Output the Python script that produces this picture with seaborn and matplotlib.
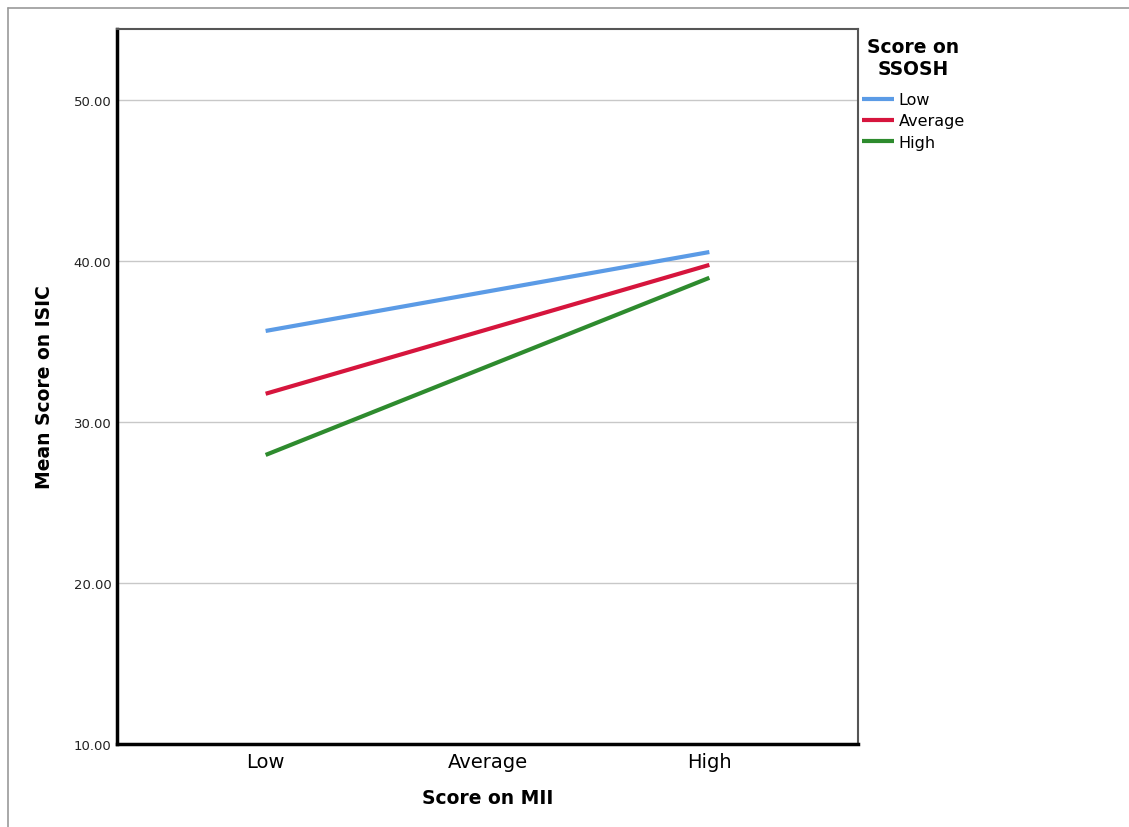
import pandas as pd
import numpy as np
import matplotlib
matplotlib.use('Agg')
import matplotlib.pyplot as plt
from matplotlib.lines import Line2D
import seaborn as sns

# Data
mii_levels = ['Low', 'Average', 'High']
ssosh_levels = ['Low', 'Average', 'High']
mii_plotted = ['Low', 'High']
isic_low_ssosh = [35.65, 40.55]
isic_avg_ssosh = [31.75, 39.75]
isic_high_ssosh = [27.95, 38.95]

colors = {'Low': '#5B9BE6', 'Average': '#D6153D', 'High': '#2E8B2E'}

rows = []
for grp, vals in zip(ssosh_levels, [isic_low_ssosh, isic_avg_ssosh, isic_high_ssosh]):
    for lvl, v in zip(mii_plotted, vals):
        rows.append({'mii': lvl, 'pos': mii_levels.index(lvl), 'ssosh': grp, 'isic': v})
df = pd.DataFrame(rows)

sns.set_style('white')
plt.rcParams['font.family'] = ['DejaVu Sans']
plt.rcParams['text.color'] = 'black'
plt.rcParams['axes.labelcolor'] = 'black'
plt.rcParams['xtick.color'] = 'black'
plt.rcParams['ytick.color'] = 'black'

fig = plt.figure(figsize=(11.29, 8.28), dpi=100)
ax = fig.add_axes([117 / 1129, 83 / 828, (858 - 117) / 1129, (745 - 30) / 828])

sns.lineplot(data=df, x='pos', y='isic', hue='ssosh', hue_order=ssosh_levels,
             palette=colors, linewidth=3, ax=ax, solid_capstyle='butt')

ax.set_xlim(-0.67, 2.67)
ax.set_ylim(10, 54.4)
ax.set_xticks(range(len(mii_levels)))
ax.set_xticklabels(mii_levels, fontsize=14)
ax.set_yticks([10, 20, 30, 40, 50])
ax.set_yticklabels([f'{t:.2f}' for t in [10, 20, 30, 40, 50]], fontsize=9.5, color='#222222')
ax.tick_params(axis='both', length=0)
ax.tick_params(axis='y', pad=4)
ax.tick_params(axis='x', pad=6)
ax.yaxis.grid(True, color='#c8c8c8', linewidth=1)
ax.set_axisbelow(True)

ax.set_xlabel('Score on MII', fontsize=13.5, fontweight='bold', labelpad=12)
ax.set_ylabel('Mean Score on ISIC', fontsize=13.5, fontweight='bold', labelpad=14)

for side in ['left', 'bottom']:
    ax.spines[side].set_color('black')
    ax.spines[side].set_linewidth(2.5)
for side in ['top', 'right']:
    ax.spines[side].set_color('#555555')
    ax.spines[side].set_linewidth(1.5)

handles, labels = ax.get_legend_handles_labels()
leg = ax.legend(handles, labels, title='Score on\nSSOSH', frameon=True,
                loc='upper left', bbox_to_anchor=(862 / 1129, 1 - 38 / 828),
                bbox_transform=fig.transFigure, fontsize=11.5,
                title_fontproperties={'weight': 'bold', 'size': 13.5},
                handlelength=2.0, handletextpad=0.3, labelspacing=0.38,
                borderpad=0.0, borderaxespad=0, alignment='center')
leg.get_title().set_multialignment('center')
leg._legend_box.sep = 0.38 * 11.5 + 6
leg.get_frame().set_edgecolor('white')
leg.get_frame().set_facecolor('white')
for line in leg.get_lines():
    line.set_linewidth(3)

# outer frame of the screenshot (top and left edges)
fig.add_artist(Line2D([8 / 1129, 1], [1 - 9 / 828, 1 - 9 / 828], color='#999999', linewidth=1.2))
fig.add_artist(Line2D([8 / 1129, 8 / 1129], [0, 1 - 9 / 828], color='#999999', linewidth=1.2))

fig.savefig('out.png', dpi=100)
